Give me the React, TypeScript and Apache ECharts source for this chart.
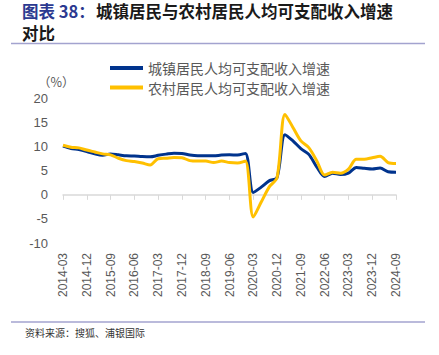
import React, { useEffect, useRef } from "react";
import * as echarts from "echarts";

const quarters: string[] = (() => {
  const out: string[] = [];
  for (let y = 2014; y <= 2024; y++) {
    for (const m of ["03", "06", "09", "12"]) {
      if (y === 2024 && m === "12") continue;
      out.push(`${y}-${m}`);
    }
  }
  return out;
})();

const urbanName = "城镇居民人均可支配收入增速";
const ruralName = "农村居民人均可支配收入增速";

const urban: number[] = [
  10.1, 9.6, 9.4, 9.0, 8.5, 8.2, 8.5, 8.3, 8.1, 8.05, 7.95, 7.9,
  8.2, 8.45, 8.65, 8.6, 8.25, 8.1, 8.1, 8.1, 8.25, 8.3, 8.25, 8.6,
  0.5, 1.6, 2.9, 3.6, 12.5, 11.2, 9.6, 8.4, 5.8, 3.8, 4.5, 4.2,
  4.5, 5.7, 5.5, 5.35, 5.55, 4.8, 4.7,
];

const rural: number[] = [
  10.3, 9.9, 9.75, 9.3, 8.9, 8.5, 8.3, 7.6, 7.1, 6.9, 6.6, 6.2,
  7.5, 7.6, 7.75, 7.7, 7.1, 7.0, 7.0, 6.7, 7.0, 6.7, 6.6, 7.0,
  -4.6, -1.5, 1.6, 3.6, 16.7, 14.0, 11.2, 9.8, 7.1, 4.1, 4.7, 4.5,
  5.35, 7.4, 7.4, 7.7, 8.0, 6.7, 6.5,
];

const yMin = -10;
const yMax = 20;
const yStep = 5;

export default function App() {
  const ref = useRef<HTMLDivElement>(null);
  useEffect(() => {
    if (!ref.current) return;
    const chart = echarts.init(ref.current, undefined, { renderer: "svg" });
    const labelFont = "'Liberation Sans', Arial, sans-serif";
    const cjk = "'Noto Sans CJK SC', sans-serif";
    chart.setOption({
      animation: false,
      backgroundColor: "#ffffff",
      grid: { left: 63, right: 43, top: 98.5, bottom: 112, containLabel: false },
      legend: {
        orient: "vertical",
        left: 110,
        top: 60,
        padding: 0,
        itemWidth: 33,
        itemHeight: 4,
        itemGap: 3.5,
        icon: "rect",
        textStyle: { color: "#595959", fontSize: 14, fontFamily: cjk, lineHeight: 16 },
        data: [urbanName, ruralName],
      },
      xAxis: [
        {
          type: "category",
          data: quarters,
          boundaryGap: false,
          axisLine: { onZero: true, lineStyle: { color: "#D9D9D9", width: 1.5 } },
          axisTick: { show: true, interval: 2, length: 5, lineStyle: { color: "#D9D9D9" } },
          axisLabel: { show: false },
          splitLine: { show: false },
        },
        {
          type: "category",
          data: quarters,
          boundaryGap: false,
          position: "bottom",
          axisLine: { show: false, onZero: false },
          axisTick: { show: false },
          axisLabel: {
            interval: 2,
            rotate: 90,
            margin: 10,
            color: "#595959",
            fontSize: 12,
            fontFamily: labelFont,
          },
          splitLine: { show: false },
        },
      ],
      yAxis: {
        type: "value",
        min: yMin,
        max: yMax,
        interval: yStep,
        axisLine: { show: false },
        axisTick: { show: false },
        splitLine: { show: false },
        axisLabel: { color: "#595959", fontSize: 13, fontFamily: labelFont, margin: 15 },
      },
      series: [
        {
          name: urbanName,
          type: "line",
          data: urban,
          xAxisIndex: 0,
          smooth: 0.3,
          showSymbol: false,
          symbol: "none",
          lineStyle: { color: "#00338D", width: 3 },
          itemStyle: { color: "#00338D" },
          z: 3,
        },
        {
          name: ruralName,
          type: "line",
          data: rural,
          xAxisIndex: 0,
          smooth: 0.3,
          showSymbol: false,
          symbol: "none",
          lineStyle: { color: "#FFC000", width: 3 },
          itemStyle: { color: "#FFC000" },
          z: 4,
        },
      ],
      graphic: [
        {
          type: "text",
          left: 22,
          top: 3,
          style: { text: "图表 38：", fontSize: 16.5, fontWeight: "bold", fill: "#2B3990", fontFamily: cjk },
        },
        {
          type: "text",
          left: 96,
          top: 3,
          style: {
            text: "城镇居民与农村居民人均可支配收入增速",
            fontSize: 16.5,
            fontWeight: "bold",
            fill: "#1a1a1a",
            fontFamily: cjk,
          },
        },
        {
          type: "text",
          left: 22,
          top: 25,
          style: { text: "对比", fontSize: 16.5, fontWeight: "bold", fill: "#1a1a1a", fontFamily: cjk },
        },
        {
          type: "line",
          shape: { x1: 11, y1: 43.5, x2: 425, y2: 43.5 },
          style: { stroke: "#A3A3CF", lineWidth: 1.5 },
        },
        {
          type: "text",
          left: 38,
          top: 75,
          style: { text: "（%）", fontSize: 12.5, fill: "#595959", fontFamily: cjk },
        },
        {
          type: "line",
          shape: { x1: 11, y1: 322, x2: 425, y2: 322 },
          style: { stroke: "#A3A3CF", lineWidth: 1.5 },
        },
        {
          type: "text",
          left: 25,
          top: 327,
          style: { text: "资料来源：搜狐、浦银国际", fontSize: 10, fill: "#333333", fontFamily: cjk },
        },
      ],
    });
    return () => chart.dispose();
  }, []);
  return (
    <div
      ref={ref}
      style={{ position: "fixed", left: 0, top: 0, width: 439, height: 355, background: "#fff" }}
    />
  );
}
